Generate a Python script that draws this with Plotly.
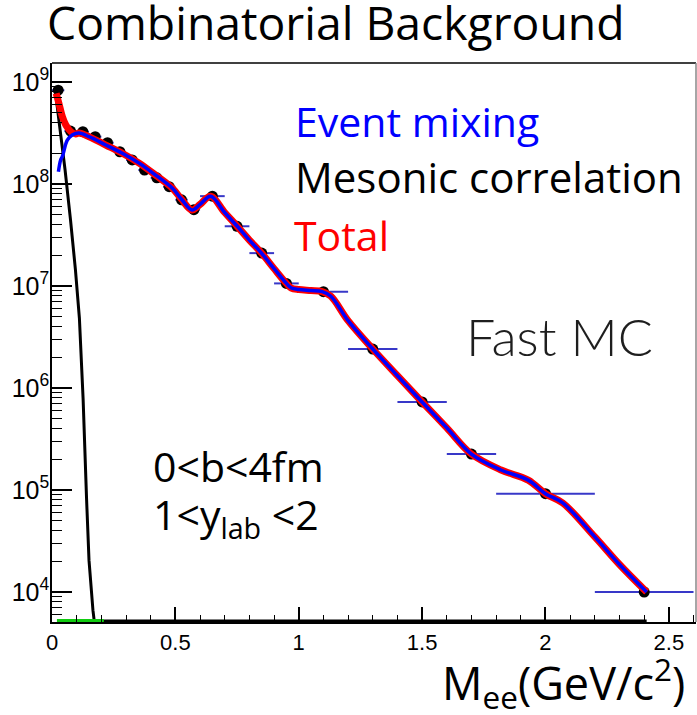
import plotly.graph_objects as go

# ---------------- data ----------------
# binned points (bin centres, half widths, counts)
bin_centers = [0.025, 0.075, 0.125, 0.175, 0.225, 0.275, 0.325, 0.375, 0.425, 0.475,
               0.525, 0.575, 0.65, 0.75, 0.85, 0.95, 1.1, 1.3, 1.5, 1.7, 2.0, 2.4]
bin_half_widths = [0.025] * 12 + [0.05] * 4 + [0.1] * 4 + [0.2] * 2
bin_counts = [8.3e8, 3.3e8, 3.26e8, 2.91e8, 2.54e8, 2.07e8, 1.72e8, 1.37e8, 1.15e8, 9.4e7,
              7.0e7, 5.6e7, 7.6e7, 3.85e7, 2.1e7, 1.06e7, 8.8e6, 2.41e6, 7.3e5, 2.25e5, 9.2e4, 1.0e4]

# event mixing curve (blue)
mix_x = [0.026, 0.035, 0.042, 0.062, 0.082, 0.109, 0.15, 0.218, 0.285, 0.353, 0.42, 0.488,
         0.525, 0.567, 0.6, 0.643, 0.7, 0.75, 0.8, 0.85, 0.9, 0.95, 0.97, 1.0, 1.05, 1.095,
         1.13, 1.2, 1.3, 1.4, 1.5, 1.6, 1.7, 1.82, 1.93, 2.0, 2.07, 2.2, 2.3, 2.41]
mix_y = [1.32e8, 1.72e8, 1.86e8, 2.69e8, 3.02e8, 3.16e8, 2.91e8, 2.41e8, 2.0e8, 1.6e8, 1.22e8, 9.08e7,
         7.08e7, 5.56e7, 6.31e7, 7.59e7, 5.25e7, 3.87e7, 2.82e7, 2.09e7, 1.48e7, 1.06e7, 9.55e6, 9.23e6,
         9.02e6, 8.81e6, 7.94e6, 4.57e6, 2.41e6, 1.32e6, 7.29e5, 4.07e5, 2.25e5, 1.57e5, 1.25e5, 9.2e4,
         7.46e4, 3.47e4, 1.86e4, 1.0e4]

# total curve (red): low-mass part, then it follows the mixing curve
total_low_x = [0.017, 0.028, 0.042, 0.056, 0.076, 0.096]
total_low_y = [7.74e8, 6.18e8, 4.57e8, 3.78e8, 3.26e8, 3.09e8]

# mesonic correlation (black)
meson_x = [0.018, 0.053, 0.075, 0.095, 0.111, 0.126, 0.140, 0.150, 0.166, 0.172]
meson_y = [6.6e8, 1.37e8, 4.44e7, 1.44e7, 4.85e6, 7.9e5, 8.3e4, 2.04e4, 6.6e3, 5.0e3]

# histograms lying on the lower edge of the frame
floor_black_x = [0.2, 2.41]
floor_green_x = [0.02, 0.21]

x_tickvals = [0, 0.5, 1, 1.5, 2, 2.5]
x_ticktext = ["0", "0.5", "1", "1.5", "2", "2.5"]

# ---------------- layout geometry ----------------
W, H = 697, 715
L, R, T, B = 52, 696, 63, 622
Y_LOG_RANGE = [3.706, 9.186]
floor_val = 10 ** Y_LOG_RANGE[0]

def pxx(x):
    return (x - L) / (R - L)

def pxy(y):
    return (B - y) / (B - T)

total_x = total_low_x + [v for v in mix_x if v > 0.1]
total_y = total_low_y + [mix_y[i] for i, v in enumerate(mix_x) if v > 0.1]

fig = go.Figure()
fig.add_trace(go.Scatter(x=meson_x, y=meson_y, mode="lines",
                         line=dict(color="black", width=3)))
fig.add_trace(go.Scatter(x=floor_black_x, y=[floor_val] * 2, mode="lines",
                         line=dict(color="black", width=5)))
fig.add_trace(go.Scatter(x=floor_green_x, y=[floor_val] * 2, mode="lines",
                         line=dict(color="#11cc11", width=6)))
fig.add_trace(go.Scatter(x=bin_centers, y=bin_counts, mode="markers",
                         marker=dict(color="black", size=11),
                         error_x=dict(type="data", array=bin_half_widths, color="#3838c8",
                                      thickness=2, width=0)))
fig.add_trace(go.Scatter(x=total_x, y=total_y, mode="lines", line_shape="spline",
                         line=dict(color="#ff0000", width=7)))
fig.add_trace(go.Scatter(x=mix_x, y=mix_y, mode="lines", line_shape="spline",
                         line=dict(color="#0000ff", width=3.5)))

xtickfont = dict(family="Liberation Sans", size=22, color="black")
ytickfont = dict(family="Liberation Sans", size=20, color="black")

fig.update_layout(
    width=W, height=H,
    margin=dict(l=L, r=W - R, t=T, b=H - B),
    paper_bgcolor="white", plot_bgcolor="white",
    showlegend=False,
    xaxis=dict(range=[0, 2.61], showgrid=False, zeroline=False,
               showline=True, linecolor="black", linewidth=1.5,
               ticks="inside", ticklen=15, tickwidth=1.5, tickcolor="black",
               tickvals=x_tickvals, ticktext=x_ticktext, tickfont=xtickfont,
               minor=dict(ticks="inside", ticklen=7, tickwidth=1.2, tickcolor="black",
                          dtick=0.1, tick0=0, showgrid=False)),
    yaxis=dict(type="log", range=Y_LOG_RANGE, showgrid=False, zeroline=False,
               showline=True, linecolor="black", linewidth=1.5,
               ticks="inside", ticklen=20, tickwidth=1.5, tickcolor="black",
               dtick=1, exponentformat="power", tickfont=ytickfont, ticklabelstandoff=-3,
               minor=dict(ticks="inside", ticklen=10, tickwidth=1.2, tickcolor="black",
                          dtick="D1", showgrid=False)),
)

fig.add_shape(type="line", xref="paper", yref="paper", x0=0, x1=1, y0=1, y1=1,
              line=dict(color="black", width=1.5))
fig.add_shape(type="line", xref="paper", yref="paper", x0=1, x1=1, y0=0, y1=1,
              line=dict(color="#888888", width=1.5))

ASC = {"Open Sans": 1.069, "Lato": 0.987}

def ann(text, x, baseline, size, color="black", family="Open Sans", weight="normal", dy=0):
    top = baseline - ASC[family] * size + dy
    fig.add_annotation(text=text, xref="paper", yref="paper", x=pxx(x), y=pxy(top),
                       xanchor="left", yanchor="top", showarrow=False,
                       borderpad=0, borderwidth=0,
                       font=dict(family=family, size=size, color=color, weight=weight))

ann("Combinatorial Background", 47, 40, 46.3)
ann("Event mixing", 295, 137, 41, color="#0000ff")
ann("Mesonic correlation", 295, 193.3, 42)
ann("Total", 294, 250.5, 41, color="#ff0000")
ann("Fast MC", 466, 356, 52, color="#1e1e1e", family="Lato", weight=300)
ann("0&lt;b&lt;4fm", 153, 481.7, 41)
ann("1&lt;y<sub>lab</sub> &lt;2", 153, 530, 41)
ann("M<sub>ee</sub>(GeV/c<sup>2</sup>)", 442, 701, 45, dy=-6)

fig.write_html("out.html")
